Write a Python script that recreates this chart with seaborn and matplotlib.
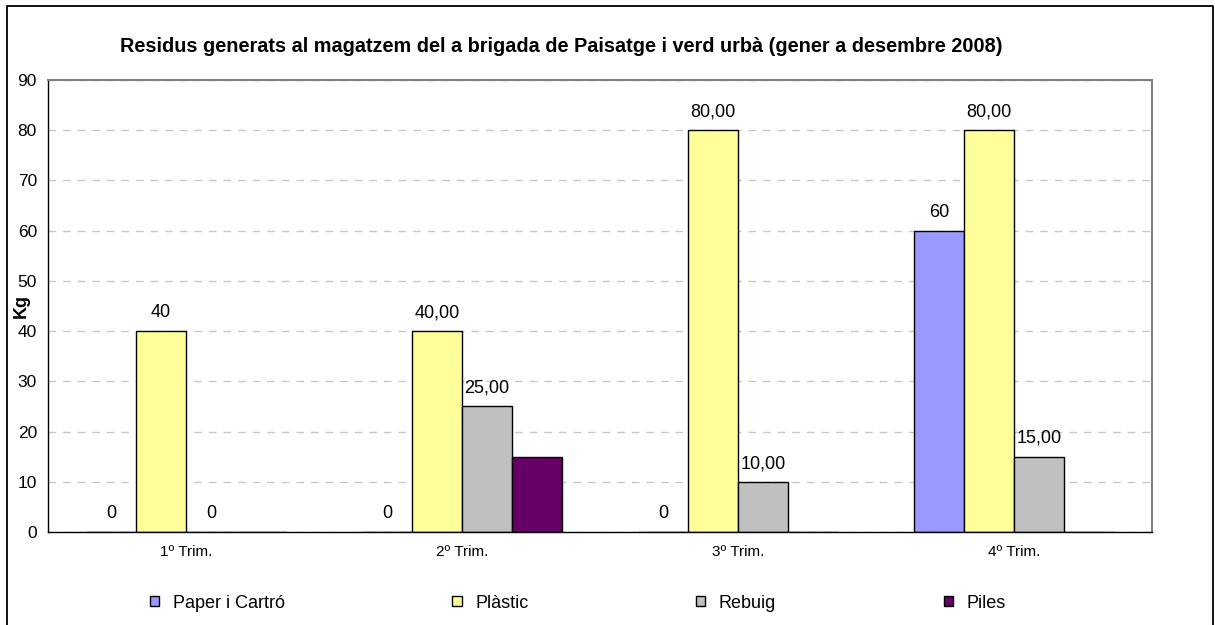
import numpy as np
import pandas as pd
import matplotlib
matplotlib.use("Agg")
import matplotlib.pyplot as plt
import seaborn as sns
from matplotlib.patches import Patch
from matplotlib.lines import Line2D

# data
trimestres = ['1º Trim.', '2º Trim.', '3º Trim.', '4º Trim.']
series = ['Paper i Cartró', 'Plàstic', 'Rebuig', 'Piles']
paper = [0, 0, 0, 60]
plastic = [40, 40, 80, 80]
rebuig = [0, 25, 10, 15]
piles = [0, 15, 0, 0]

paper_lbl = ['0', '0', '0', '60']
plastic_lbl = ['40', '40,00', '80,00', '80,00']
rebuig_lbl = ['0', '25,00', '10,00', '15,00']
piles_lbl = ['', '', '', '']

colors = ['#9999FF', '#FFFF99', '#C0C0C0', '#660066']

df = pd.DataFrame({
    'trim': trimestres * 4,
    'serie': [s for s in series for _ in trimestres],
    'kg': paper + plastic + rebuig + piles,
})

sns.set_style('white')
plt.rcParams['font.family'] = ['Liberation Sans', 'DejaVu Sans']
plt.rcParams.update({'text.color': 'black', 'axes.labelcolor': 'black',
                     'xtick.color': 'black', 'ytick.color': 'black'})

fig = plt.figure(figsize=(12.15, 6.25), dpi=100)
ax = fig.add_axes([48/1215, 1-532/625, 1104/1215, 452/625])

sns.barplot(data=df, x='trim', y='kg', hue='serie', order=trimestres,
            hue_order=series, palette=colors, width=0.725,
            edgecolor='black', linewidth=1, saturation=1, ax=ax, legend=False)

for cont, lbls in zip(ax.containers, [paper_lbl, plastic_lbl, rebuig_lbl, piles_lbl]):
    ax.bar_label(cont, labels=lbls, padding=7, fontsize=13, color='black')

ax.set_xlim(-0.5, 3.5)
ax.set_ylim(0, 90)
ax.set_yticks(range(0, 91, 10))
ax.set_axisbelow(True)
ax.yaxis.grid(True, color='#c8c8c8', linestyle=(0, (5.5, 5)), linewidth=1)
ax.xaxis.grid(False)

ax.set_xticks(range(4))
ax.set_xticklabels(trimestres, fontsize=11)
ax.set_xticks(np.arange(-0.5, 4, 1), minor=True)
ax.tick_params(axis='x', which='major', length=0, pad=9)
ax.tick_params(axis='x', which='minor', length=5, width=1, color='black', direction='out')
ax.tick_params(axis='y', length=5, width=1, color='black', direction='out', labelsize=12.5, pad=3)
ax.set_xlabel('')
ax.set_ylabel('Kg', fontsize=13, fontweight='bold')
ax.yaxis.set_label_coords(-18/1104, 0.5)

for side in ['left', 'bottom']:
    ax.spines[side].set_color('black')
    ax.spines[side].set_linewidth(1)
for side in ['top', 'right']:
    ax.spines[side].set_color('#808080')
    ax.spines[side].set_linewidth(1.5)

fig.text(561/1215, 1-47/625, 'Residus generats al magatzem del a brigada de Paisatge i verd urbà (gener a desembre 2008)',
         ha='center', va='center', fontsize=14.3, fontweight='bold')

handles = [Patch(facecolor=c, edgecolor='black', linewidth=1) for c in colors]
fig.legend(handles, series, loc='center left', bbox_to_anchor=(150/1215, 1-603/625),
           ncol=4, frameon=False, fontsize=13, handlelength=0.5, handleheight=0.5,
           handletextpad=0.75, columnspacing=9.3, borderpad=0, borderaxespad=0)

# chart frame
fig.add_artist(Line2D([7/1215, 7/1215, 1213/1215, 1213/1215], [-0.1, 1-6/625, 1-6/625, -0.1],
                      transform=fig.transFigure, color='black', linewidth=1.3))

fig.savefig('out.png', dpi=100)
